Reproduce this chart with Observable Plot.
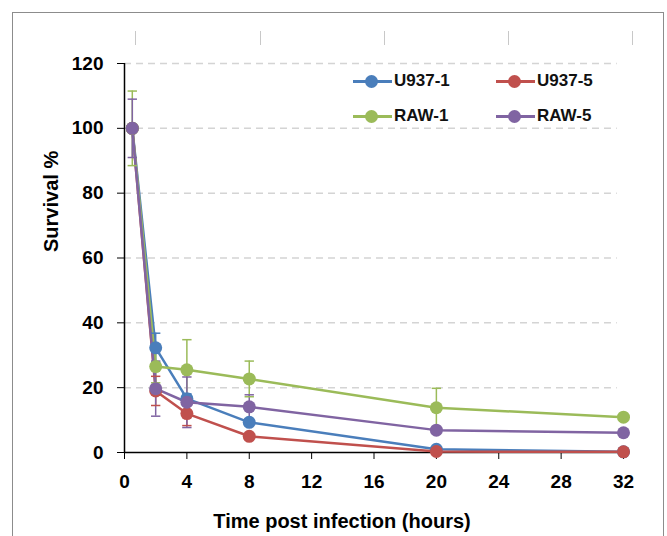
<!DOCTYPE html>
<html>
<head>
<meta charset="utf-8">
<script src="https://cdn.jsdelivr.net/npm/d3@7"></script>
<script src="https://cdn.jsdelivr.net/npm/@observablehq/plot@0.6"></script>
<style>
  html, body { margin: 0; padding: 0; background: #fff; }
  #wrap { position: relative; width: 667px; height: 536px; overflow: hidden; font-family: "Liberation Sans", Arial, sans-serif; }
  #frame { position: absolute; left: 12px; top: 12px; width: 652px; height: 600px; border: 1px solid #8c8c8c; box-sizing: border-box; pointer-events: none; }
  .tk { position: absolute; top: 31px; width: 1px; height: 14px; background: #c8c8c8; }
  .leg { position: absolute; font-weight: bold; font-size: 17px; color: #111; display: flex; align-items: center; }
  .leg .sw { position: relative; width: 39px; height: 3px; margin-right: 2px; }
  .leg .sw i { position: absolute; left: 12px; top: -5px; width: 13px; height: 13px; border-radius: 50%; }
</style>
</head>
<body>
<div id="wrap">
  <div id="chart"></div>
  <div id="frame"></div>
  <div class="tk" style="left:135px"></div>
  <div class="tk" style="left:260px"></div>
  <div class="tk" style="left:384px"></div>
  <div class="tk" style="left:508px"></div>
  <div class="tk" style="left:632px"></div>
  <div id="legend"></div>
</div>
<script>
// Time points (hours post infection)
const times = [0.5, 2, 4, 8, 20, 32];
// Series names and colours
const seriesNames = ["U937-1", "U937-5", "RAW-1", "RAW-5"];
const seriesColors = ["#4a7ebb", "#c0504d", "#9bbb59", "#8064a2"];
// Survival % values
const u937_1 = [100, 32.3, 16.6, 9.3, 1.0, 0.2];
const u937_5 = [100, 19.0, 12.0, 5.0, 0.3, 0.2];
const raw_1  = [100, 26.5, 25.5, 22.7, 13.8, 10.9];
const raw_5  = [100, 19.7, 15.5, 14.1, 6.9, 6.1];
// Error (± SD)
const u937_1_err = [0, 4.5, 1.5, 1.0, 0, 0];
const u937_5_err = [0, 4.5, 3.7, 0, 0, 0];
const raw_1_err  = [11.5, 5.0, 9.3, 5.5, 6.0, 0];
const raw_5_err  = [9.0, 8.5, 7.8, 3.7, 1.0, 0];
// Axis ticks
const xTicks = [0, 4, 8, 12, 16, 20, 24, 28, 32];
const yTicks = [0, 20, 40, 60, 80, 100, 120];
const gridTicks = [20, 40, 60, 80, 100, 120];

const vals = [u937_1, u937_5, raw_1, raw_5];
const errs = [u937_1_err, u937_5_err, raw_1_err, raw_5_err];
const data = [];
seriesNames.forEach((s, i) => times.forEach((t, j) => {
  data.push({series: s, t, v: vals[i][j], e: errs[i][j]});
}));
const errData = data.filter(d => d.e > 0);
const capW = 0.3;

const color = {domain: seriesNames, range: seriesColors};

const plot = Plot.plot({
  width: 667,
  height: 536,
  marginLeft: 124,
  marginRight: 44,
  marginTop: 63,
  marginBottom: 84,
  style: {fontFamily: "'Liberation Sans', Arial, sans-serif", fontSize: "19px", fontWeight: "bold", color: "#000", background: "transparent"},
  x: {domain: [0, 32]},
  y: {domain: [0, 120]},
  color,
  marks: [
    Plot.ruleY(gridTicks, {y: d => d, x1: 0, x2: 31.6, stroke: "#d4d4d4", strokeWidth: 1.5, strokeDasharray: "7,5"}),
    Plot.axisY({ticks: yTicks, tickSize: 7, tickPadding: 14, label: null, fontSize: 19, fontWeight: "bold", stroke: "#000"}),
    Plot.axisX({ticks: xTicks, tickSize: 7, tickPadding: 15, label: null, fontSize: 19, fontWeight: "bold", stroke: "#000"}),
    Plot.ruleX([0], {y1: 0, y2: 120, stroke: "#000", strokeWidth: 1.5}),
    Plot.ruleY([0], {x1: 0, x2: 32, stroke: "#000", strokeWidth: 1.5}),
    ...seriesNames.map((s, i) => Plot.line(data.filter(d => d.series === s), {x: "t", y: "v", stroke: seriesColors[i], strokeWidth: 2.5})),
    ...seriesNames.map((s, i) => Plot.ruleX(errData.filter(d => d.series === s), {x: "t", y1: d => d.v - d.e, y2: d => d.v + d.e, stroke: seriesColors[i], strokeWidth: 1.5})),
    ...seriesNames.map((s, i) => Plot.link(errData.filter(d => d.series === s), {x1: d => d.t - capW, x2: d => d.t + capW, y1: d => d.v + d.e, y2: d => d.v + d.e, stroke: seriesColors[i], strokeWidth: 1.5})),
    ...seriesNames.map((s, i) => Plot.link(errData.filter(d => d.series === s), {x1: d => d.t - capW, x2: d => d.t + capW, y1: d => d.v - d.e, y2: d => d.v - d.e, stroke: seriesColors[i], strokeWidth: 1.5})),
    ...seriesNames.map((s, i) => Plot.dot(data.filter(d => d.series === s), {x: "t", y: "v", r: 6.5, fill: seriesColors[i], stroke: "none"})),
    Plot.text(["Survival %"], {frameAnchor: "left", dx: -73, dy: -6, rotate: -90, fontSize: 20, fontWeight: "bold", fill: "#000"}),
    Plot.text(["Time post infection (hours)"], {frameAnchor: "bottom", lineAnchor: "bottom", dx: -32, dy: 75, fontSize: 20, fontWeight: "bold", fill: "#000"})
  ]
});
document.getElementById("chart").appendChild(plot);

// Legend
const legPos = [[353, 81], [496, 81], [353, 116], [496, 116]];
const leg = document.getElementById("legend");
seriesNames.forEach((s, i) => {
  const el = document.createElement("div");
  el.className = "leg";
  el.style.left = legPos[i][0] + "px";
  el.style.top = (legPos[i][1] - 10) + "px";
  el.style.height = "20px";
  el.innerHTML = `<span class="sw" style="background:${seriesColors[i]}"><i style="background:${seriesColors[i]}"></i></span><span>${s}</span>`;
  leg.appendChild(el);
});
</script>
</body>
</html>
